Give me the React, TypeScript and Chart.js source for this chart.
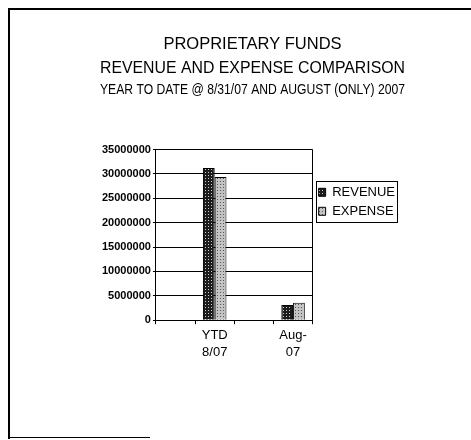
import React, { useEffect, useRef } from "react";
import { Chart, registerables } from "chart.js";

Chart.register(...registerables);

const titleLines = ["PROPRIETARY FUNDS", "REVENUE AND EXPENSE COMPARISON"];
const subtitleText = "YEAR TO DATE @ 8/31/07 AND AUGUST (ONLY) 2007";
const categories: (string | string[])[] = ["", ["YTD", "8/07"], "", ["Aug-", "07"]];
const revenue: (number | null)[] = [null, 31200000, null, 3100000];
const expense: (number | null)[] = [null, 29400000, null, 3600000];
const yMax = 35000000;
const yStep = 5000000;

const FONT = "'Liberation Sans', Arial, sans-serif";

function makePattern(bg: string, dot: string): CanvasPattern | string {
  const c = document.createElement("canvas");
  c.width = 3;
  c.height = 3;
  const g = c.getContext("2d");
  if (!g) return bg;
  g.fillStyle = bg;
  g.fillRect(0, 0, 3, 3);
  g.fillStyle = dot;
  g.fillRect(1, 1, 1, 1);
  const p = g.createPattern(c, "repeat");
  return p || bg;
}

const legendBorder = {
  id: "legendBorder",
  afterDraw(chart: any) {
    const lg = chart.legend;
    if (!lg || !lg.legendHitBoxes || !lg.legendHitBoxes.length) return;
    const hb = lg.legendHitBoxes;
    let x0 = Infinity, y0 = Infinity, x1 = -Infinity, y1 = -Infinity;
    for (const b of hb) {
      x0 = Math.min(x0, b.left);
      y0 = Math.min(y0, b.top);
      x1 = Math.max(x1, b.left + b.width);
      y1 = Math.max(y1, b.top + b.height);
    }
    const ctx = chart.ctx;
    ctx.save();
    ctx.strokeStyle = "#000";
    ctx.lineWidth = 1;
    ctx.strokeRect(Math.round(x0 - 3) + 0.5, Math.round(y0 - 5) + 0.5, Math.round(x1 - x0 + 5), Math.round(y1 - y0 + 9));
    ctx.restore();
  },
};

export default function App() {
  const ref = useRef<HTMLCanvasElement | null>(null);
  useEffect(() => {
    if (!ref.current) return;
    const revFill = makePattern("#1c1c1c", "#d0d0d0");
    const expFill = makePattern("#c4c4c4", "#555555");
    const chart = new Chart(ref.current, {
      type: "bar",
      data: {
        labels: categories,
        datasets: [
          {
            label: "REVENUE",
            data: revenue,
            backgroundColor: revFill as any,
            borderColor: "#000",
            borderWidth: 1,
            categoryPercentage: 0.6,
            barPercentage: 1.0,
          },
          {
            label: "EXPENSE",
            data: expense,
            backgroundColor: expFill as any,
            borderColor: "#000",
            borderWidth: 1,
            categoryPercentage: 0.6,
            barPercentage: 1.0,
          },
        ],
      },
      options: {
        responsive: false,
        animation: false,
        layout: { padding: { left: 100, right: 66, top: 0, bottom: 76 } },
        plugins: {
          title: {
            display: true,
            text: titleLines,
            color: "#000",
            font: { family: FONT, size: 16.5, weight: "normal", lineHeight: 1.4 },
            padding: { top: 33.4, bottom: 0 },
          },
          subtitle: {
            display: true,
            text: subtitleText,
            color: "#000",
            font: { family: FONT, size: 15.5, weight: "normal", lineHeight: 1.355 },
            padding: { top: 0, bottom: 49 },
          },
          legend: {
            display: true,
            position: "right",
            align: "center",
            maxWidth: 120,
            title: { display: true, text: "", padding: 12, font: { family: FONT, size: 13 } },
            labels: {
              boxWidth: 7,
              boxHeight: 8,
              padding: 6,
              color: "#000",
              font: { family: FONT, size: 13 },
            },
          },
          tooltip: { enabled: false },
        },
        scales: {
          x: {
            offset: true,
            grid: {
              offset: true,
              drawOnChartArea: true,
              color: (c: any) => (c.tick ? "rgba(0,0,0,0)" : "#000"),
              tickColor: "#000",
              tickLength: 4,
            },
            border: { display: true, color: "#000" },
            ticks: {
              autoSkip: false,
              maxRotation: 0,
              padding: 3,
              color: "#000",
              font: { family: FONT, size: 13, lineHeight: 1.3 },
            },
          },
          y: {
            min: 0,
            max: yMax,
            grid: { color: "#000", tickColor: "#000", tickLength: 3 },
            border: { display: true, color: "#000" },
            ticks: {
              stepSize: yStep,
              padding: 2,
              color: "#000",
              font: { family: FONT, size: 11, weight: "bold" },
              callback: (v: any) => String(v),
            },
          },
        },
      },
      plugins: [legendBorder],
    });
    return () => chart.destroy();
  }, []);

  return (
    <div style={{ position: "absolute", left: 0, top: 0, width: 471, height: 440, background: "#fff" }}>
      <canvas ref={ref} width={471} height={440} style={{ display: "block" }} />
      <div style={{ position: "absolute", left: 9, top: 8, width: 462, height: 2, background: "#000" }} />
      <div style={{ position: "absolute", left: 8, top: 8, width: 2, height: 431, background: "#000" }} />
      <div style={{ position: "absolute", left: 8, top: 437, width: 142, height: 1, background: "#000" }} />
    </div>
  );
}
